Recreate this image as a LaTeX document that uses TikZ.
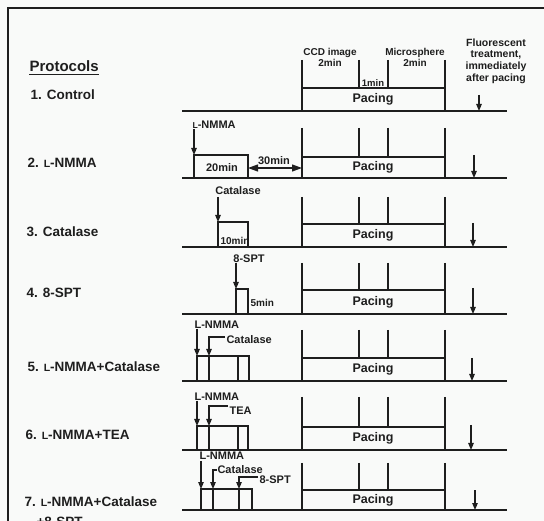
\documentclass[tikz,border=0pt]{standalone}
\usepackage{fontspec}
\setmainfont{Liberation Sans}
\usetikzlibrary{arrows.meta}
\newcommand{\sL}{\scalebox{0.78}{L}}
\definecolor{ink}{RGB}{30,30,30}
\definecolor{paper}{RGB}{249,250,249}
\tikzset{
  lbl/.style={anchor=west, inner sep=0pt, text=ink, font=\fontsize{13.5}{16}\selectfont\bfseries},
  sm/.style={inner sep=0pt, text=ink, font=\fontsize{11}{13}\selectfont\bfseries},
  tiny/.style={inner sep=0pt, text=ink, align=center, font=\fontsize{10}{11}\selectfont\bfseries},
  pace/.style={inner sep=0pt, text=ink, font=\fontsize{12.5}{14}\selectfont\bfseries},
  arr/.style={-{Triangle[length=7pt,width=5.5pt]}},
  dbl/.style={{Triangle[length=10pt,width=7pt]}-{Triangle[length=10pt,width=7pt]}},
  base/.style={line width=1.5pt},
}
\begin{document}
\begin{tikzpicture}[x=1pt,y=-1pt, line width=1.1pt, draw=ink]
\useasboundingbox[fill=paper] (0,0) rectangle (544,521);
\clip (0,0) rectangle (544,521);
% frame
\draw[line width=1.2pt] (8,521) -- (8,8) -- (544,8);

% header texts
\node[lbl, font=\fontsize{15}{18}\selectfont\bfseries] (prot) at (29,66) {Protocols};
\draw[line width=1pt] ([yshift=-2.5pt]prot.south west) -- ([yshift=-2.5pt]prot.south east);
\node[tiny] (ccd) at (330,57) {CCD image\\2min};
\node[tiny] (micro) at (415,57) {Microsphere\\2min};
\node[tiny, font=\fontsize{9.5}{11}\selectfont\bfseries] (onemin) at (373,83) {1min};
\node[tiny, font=\fontsize{10.5}{11.7}\selectfont\bfseries] (fluo) at (496,61) {Fluorescent\\treatment,\\immediately\\after pacing};

% left labels
\node[lbl] (l1) at (30,95) {1. Control};
\node[lbl] (l2) at (27,163) {2. \sL-NMMA};
\node[lbl] (l3) at (26,232) {3. Catalase};
\node[lbl] (l4) at (26,293) {4. 8-SPT};
\node[lbl] (l5) at (27,367) {5. \sL-NMMA+Catalase};
\node[lbl] (l6) at (25,435) {6. \sL-NMMA+TEA};
\node[lbl] (l7) at (24,502) {7. \sL-NMMA+Catalase};
\node[lbl] (l7b) at (36,522) {+8-SPT};

% pacing part of each row
\foreach \i/\b/\t/\bt/\ay/\ax in {1/111/60/88/95/479, 2/178/128/157/155/474, 3/247/197/224/223/473, 4/314/263/290/288/473, 5/381/330/358/358/472, 6/450/397/427/425/471, 7/510/463/490/490/475}{
  \draw[base] (182,\b) -- (507,\b);
  \draw (302,\t) -- (302,\b);
  \draw (445,\t) -- (445,\b);
  \draw (359,\t) -- (359,\bt);
  \draw (388,\t) -- (388,\bt);
  \draw (302,\bt) -- (445,\bt);
  \node[pace] (pace\i) at (373,{(\bt+\b)/2}) {Pacing};
  \draw[arr] (\ax,\ay) -- (\ax,\b);
}

% row 2
\node[sm, anchor=west] (nm2) at (192,125) {\sL-NMMA};
\draw[arr] (194,129) -- (194,155);
\draw (194,155) rectangle (248,178);
\node[sm] (t20) at (222,168) {20min};
\draw[dbl] (248,168) -- (302,168);
\node[sm] (t30) at (274,161) {30min};

% row 3
\node[sm] (cat3) at (238,191) {Catalase};
\draw[arr] (218,197) -- (218,222);
\draw (218,222) rectangle (248,247);
\node[sm, font=\fontsize{10}{12}\selectfont\bfseries] (t10) at (235,241) {10min};

% row 4
\node[sm] (spt4) at (249,259) {8-SPT};
\draw[arr] (236,263) -- (236,289);
\draw (236,289) rectangle (248,314);
\node[sm, anchor=west, font=\fontsize{10}{12}\selectfont\bfseries] (t5) at (250,303) {5min};

% row 5
\node[sm, anchor=west] (nm5) at (194,325) {L-NMMA};
\draw[arr] (197,329) -- (197,356);
\node[sm, anchor=west] (cat5) at (226,340) {Catalase};
\draw[arr] (225,337) -| (209,356);
\draw (197,356) rectangle (249,381);
\draw (209,356) -- (209,381);
\draw (238,356) -- (238,381);

% row 6
\node[sm, anchor=west] (nm6) at (194,397) {L-NMMA};
\draw[arr] (197,401) -- (197,426);
\node[sm, anchor=west] (tea6) at (229,411) {TEA};
\draw[arr] (228,406) -| (209,426);
\draw (197,426) rectangle (248,450);
\draw (209,426) -- (209,450);
\draw (238,426) -- (238,450);

% row 7
\node[sm, anchor=west] (nm7) at (199,456) {L-NMMA};
\draw[arr] (201,461) -- (201,489);
\node[sm, anchor=west] (cat7) at (217,469.5) {Catalase};
\draw[arr] (217,470) -| (213,489);
\node[sm, anchor=west] (spt7) at (259,480) {8-SPT};
\draw[arr] (258,477) -| (239,489);
\draw (201,489) rectangle (252,510);
\draw (213,489) -- (213,510);
\draw (239,489) -- (239,510);
\end{tikzpicture}
\end{document}
